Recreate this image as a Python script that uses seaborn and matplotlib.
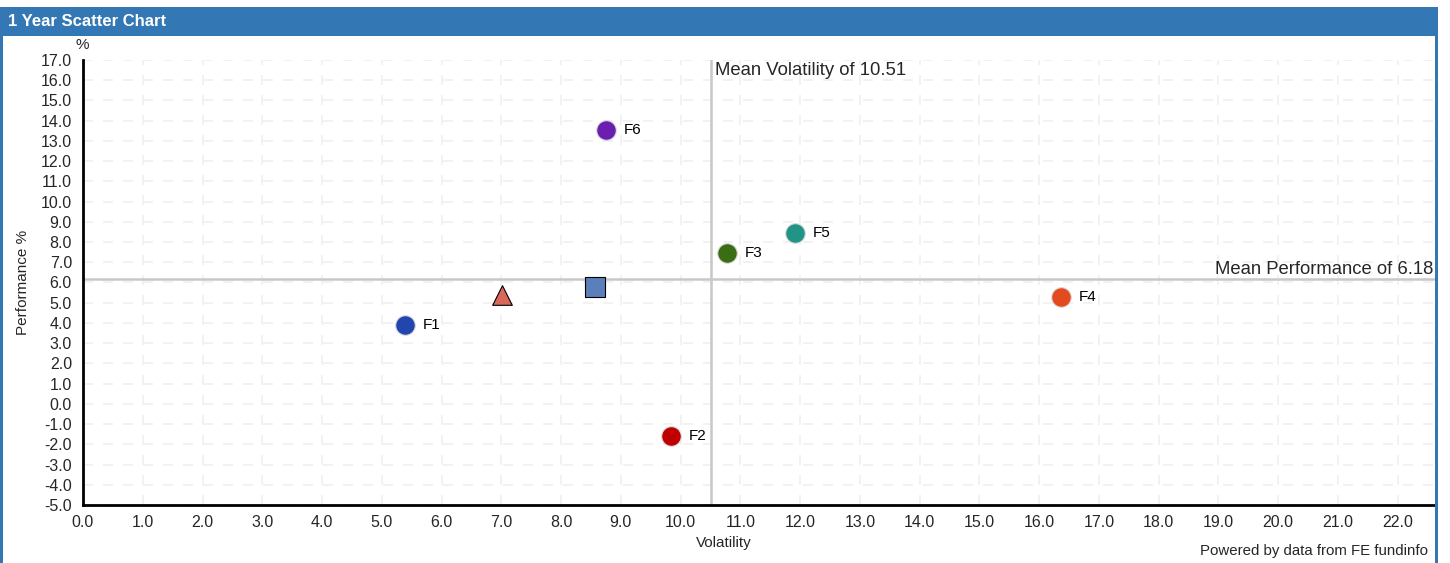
import pandas as pd
import numpy as np
import seaborn as sns
import matplotlib.pyplot as plt
from matplotlib.patches import Rectangle

sns.set_style("white")
plt.rcParams['font.family'] = ['Liberation Sans', 'DejaVu Sans']

# values
names = ['F1', 'F2', 'F3', 'F4', 'F5', 'F6', 'Sector', 'Index']
volatility = [5.39, 9.84, 10.77, 16.36, 11.91, 8.75, 7.01, 8.57]
performance = [3.90, -1.59, 7.46, 5.28, 8.45, 13.54, 5.38, 5.78]
shapes = ['o', 'o', 'o', 'o', 'o', 'o', '^', 's']
colors = ['#2246b0', '#c00000', '#3b6e14', '#e34a1f', '#219486', '#6a1fb0', '#d9685a', '#5a7fbb']
mean_vol = 10.51
mean_perf = 6.18

df = pd.DataFrame({'name': names, 'volatility': volatility, 'performance': performance})

fig = plt.figure(figsize=(14.5, 5.63), dpi=100)
ax = fig.add_axes([83 / 1450, 1 - 505 / 563, (1436 - 83) / 1450, (505 - 60) / 563])

# dashed light grid
for v in np.arange(0, 23, 1.0):
    ax.axvline(v, color='#f0f0f0', lw=1.2, ls=(0, (6, 6)), zorder=0)
for v in np.arange(-5, 18, 1.0):
    ax.axhline(v, color='#f0f0f0', lw=1.2, ls=(0, (6, 6)), zorder=0)

ax.axvline(mean_vol, color='#c8c8c8', lw=1.8, zorder=1)
ax.axhline(mean_perf, color='#c8c8c8', lw=1.8, zorder=1)

for i, row in df.iterrows():
    circle = shapes[i] == 'o'
    sns.scatterplot(x=[row['volatility']], y=[row['performance']], ax=ax,
                    marker=shapes[i], color=colors[i], s=200,
                    edgecolor='#dddddd' if circle else 'black',
                    linewidth=0.8, zorder=3, legend=False)
    if circle:
        ax.annotate(row['name'], (row['volatility'], row['performance']),
                    xytext=(13, 0), textcoords='offset points', va='center',
                    fontsize=11, color='black')

ax.text(mean_vol + 0.06, 16.9, 'Mean Volatility of 10.51', fontsize=13.3, va='top', ha='left')
ax.text(22.6, mean_perf + 0.05, 'Mean Performance of 6.18', fontsize=13.3, va='bottom', ha='right')

ax.set_xlim(0, 22.64)
ax.set_ylim(-5, 17)
ax.set_xticks(np.arange(0, 23, 1.0))
ax.set_yticks(np.arange(-5, 18, 1.0))
ax.xaxis.set_major_formatter(plt.FuncFormatter(lambda v, p: f'{v:.1f}'))
ax.yaxis.set_major_formatter(plt.FuncFormatter(lambda v, p: f'{v:.1f}'))
ax.tick_params(axis='both', labelsize=11.5, length=4, width=1.5, color='black', pad=4, direction='out')
ax.tick_params(axis='x', pad=3)
ax.set_xlabel('Volatility', fontsize=11)
ax.set_ylabel('Performance %', fontsize=11)
ax.xaxis.set_label_coords((724 - 83) / 1353, -0.07)
ax.yaxis.set_label_coords(-53 / 1353, 0.5)
for s in ['top', 'right']:
    ax.spines[s].set_visible(False)
for s in ['left', 'bottom']:
    ax.spines[s].set_color('black')
    ax.spines[s].set_linewidth(2)
ax.set_facecolor('white')

fig.text(75 / 1450, 1 - 45 / 563, '%', fontsize=11, va='center', ha='left')
fig.text(1428 / 1450, 1 - 551 / 563, 'Powered by data from FE fundinfo', fontsize=10.8, va='center', ha='right')

# title bar and frame
blue = '#3477b5'
fig.patches.append(Rectangle((0, 1 - 36 / 563), 1438 / 1450, 29 / 563, transform=fig.transFigure,
                             facecolor=blue, edgecolor='none', zorder=5))
fig.patches.append(Rectangle((0, 0), 3 / 1450, 1 - 7 / 563, transform=fig.transFigure,
                             facecolor=blue, edgecolor='none', zorder=5))
fig.patches.append(Rectangle((1435 / 1450, 0), 3 / 1450, 1 - 7 / 563, transform=fig.transFigure,
                             facecolor=blue, edgecolor='none', zorder=5))
fig.text(8 / 1450, 1 - 22 / 563, '1 Year Scatter Chart', color='white', fontsize=12,
         fontweight='bold', va='center', ha='left', zorder=6)

fig.savefig('out.png', dpi=100, facecolor='white')
